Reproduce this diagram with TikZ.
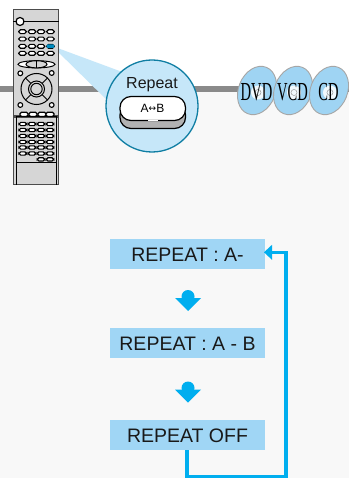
\documentclass[tikz,border=0pt]{standalone}
\usepackage{fontspec}
\setmainfont{Liberation Sans}
\newfontfamily\serifd{Liberation Serif}
\usetikzlibrary{shapes.geometric}
\definecolor{bgl}{HTML}{F8F8F8}
\definecolor{band}{HTML}{8A8A8A}
\definecolor{lblue}{HTML}{C6E7F9}
\definecolor{ring}{HTML}{0F7EA3}
\definecolor{boxb}{HTML}{A0D6F5}
\definecolor{arrowb}{HTML}{00AEEF}
\definecolor{rem}{HTML}{D6D6D6}
\definecolor{disc}{HTML}{9FD4F3}
\tikzset{
  stepbox/.style={fill=boxb,minimum width=155pt,minimum height=30pt,inner sep=0pt,font=\fontsize{19.5}{22}\selectfont,text=black!90},
  rbtn/.style={draw=black,line width=1.15pt,fill=white,rounded corners=1.8pt},
  discs/.style={draw=black!35,line width=.9pt,fill=disc,ellipse,rotate=-22,minimum width=37pt,minimum height=50pt,inner sep=0pt},
  disctext/.style={font=\serifd\fontsize{26}{26}\selectfont,text=black,inner sep=0pt,xscale=.56},
  loopline/.style={draw=arrowb,line width=3.6pt},
}
\begin{document}
\begin{tikzpicture}[x=1pt,y=-1pt]
\useasboundingbox (0,0) rectangle (349,478);
\fill[white] (0,0) rectangle (349,92);
\fill[bgl] (0,92) rectangle (349,478);
\fill[band] (0,86) rectangle (349,92);
% discs
\foreach \n/\x/\t in {a/257/DVD,b/293/VCD,c/329/CD}{
  \node[discs] (d\n) at (\x,90.5) {};
  \fill[white!85!disc] (\x+1,92.5) circle (7);
  \draw[black!40,line width=.5pt] (\x+1,92.5) circle (3);
  \node[disctext] at (\x-.5,92) {\t};
}
% beam
\fill[lblue] (52,46) -- (125,73) -- (110,103) -- cycle;
% remote
\fill[black!70] (12.7,9) rectangle (59.3,185);
\fill[rem] (13.7,10) rectangle (58.3,184);
\draw[black,line width=.8pt] (13,21.5) -- (59,21.5);
\draw[black,line width=1.2pt,fill=white] (20,21.5) circle (4);
\foreach \y in {31.7,39,46.3,53.3}{
 \foreach \x in {22.5,32,41,50.5}{
  \draw[rbtn] (\x-3.8,\y-1.9) rectangle (\x+3.8,\y+1.9);}}
\fill[arrowb!80!black,rounded corners=1pt] (46.7,44.4) rectangle (54.3,48.2);
% oval row
\draw[black,line width=1pt,fill=white] (36.5,64.3) ellipse (18.5 and 3.6);
\draw[black,line width=1pt,fill=rem] (36.5,64.3) ellipse (10.5 and 3.6);
\draw[black,line width=.8pt] (36.5,60.7)--(36.5,67.9);
\draw[black,line width=1.1pt,fill=white] (20.3,73.3) circle (2.4) (51.7,73) circle (2.4) (20.3,105) circle (2.4) (51.7,105) circle (2.4);
\draw[black,line width=1pt] (36.5,89) circle (15.5) (36.5,89) circle (8) (36.5,89) circle (5.7);
\draw[black,line width=.9pt] (25.5,78) -- (30.8,83.3) (47.5,78) -- (42.2,83.3) (25.5,100) -- (30.8,94.7) (47.5,100) -- (42.2,94.7);
% lower
\fill[black!70] (13,115) rectangle (59,118);
\draw[black,line width=.8pt] (16,116) -- (16,185) (56,116) -- (56,185);
\draw[black,line width=.8pt] (16,116) rectangle (56,162.5);
\foreach \x in {24,33,42,50}{\draw[black,line width=1.2pt,fill=white,rounded corners=1.5pt] (\x-4,112.3) rectangle (\x+4,116.5);}
\foreach \y in {124,130,136,142,147.5,153.5}{
 \foreach \x in {22.8,32,41,50}{
  \draw[rbtn] (\x-3.9,\y-1.6) rectangle (\x+3.9,\y+1.6);}}
\foreach \x in {41,50}{\draw[rbtn] (\x-3.9,157.8) rectangle (\x+3.9,161);}
% magnifier
\node[circle,draw=ring,fill=lblue,line width=1.3pt,minimum size=92pt,inner sep=0pt] (mag) at (152,106) {};
\node[font=\fontsize{16}{18}\selectfont,inner sep=0pt,text=black!90] (rep) at (152,85) {Repeat};
\path[draw=black,line width=1.2pt,fill=black!30,rounded corners=11pt] (120,104) rectangle (185.5,128.5);
\path[draw=black,line width=1.2pt,fill=white,rounded corners=11pt] (120,96.5) rectangle (185.5,120.5);
\draw[white,line width=1.2pt] (148,120.5) -- (158,120.5);
\node[font=\fontsize{12}{14}\selectfont,inner sep=0pt] (btn) at (152.5,108.5) {A\raisebox{.8pt}{\fontspec{DejaVu Sans}\fontsize{9}{9}\selectfont↔}B};
% steps
\node[stepbox] (s1) at (187.5,254) {};
\node[stepbox] (s2) at (187.5,343) {};
\node[stepbox] (s3) at (187.5,435) {};
\node[stepbox,fill=none] at (187.5,254.7) {REPEAT : A-};
\node[stepbox,fill=none] at (187.5,343.7) {REPEAT : A - B};
\node[stepbox,fill=none] at (187.5,435.7) {REPEAT OFF};
% small arrows
\foreach \y in {290,381.5}{
  \fill[arrowb] (188,\y+6.5) circle (6.5);
  \fill[arrowb] (175,\y+8) -- (201,\y+8) -- (188,\y+21) -- cycle;
}
\coordinate (c1) at (187,476.5);
\coordinate (c2) at (285.7,476.5);
\coordinate (c3) at (285.7,252.3);
\coordinate (c4) at (272,252.3);
\draw[loopline] (s3.south -| c1) -- (c1) -- (c2) -- (c3) -- (c4);
\fill[arrowb] (264,252.3) -- (272,244.8) -- (272,259.8) -- cycle;
\end{tikzpicture}
\end{document}
